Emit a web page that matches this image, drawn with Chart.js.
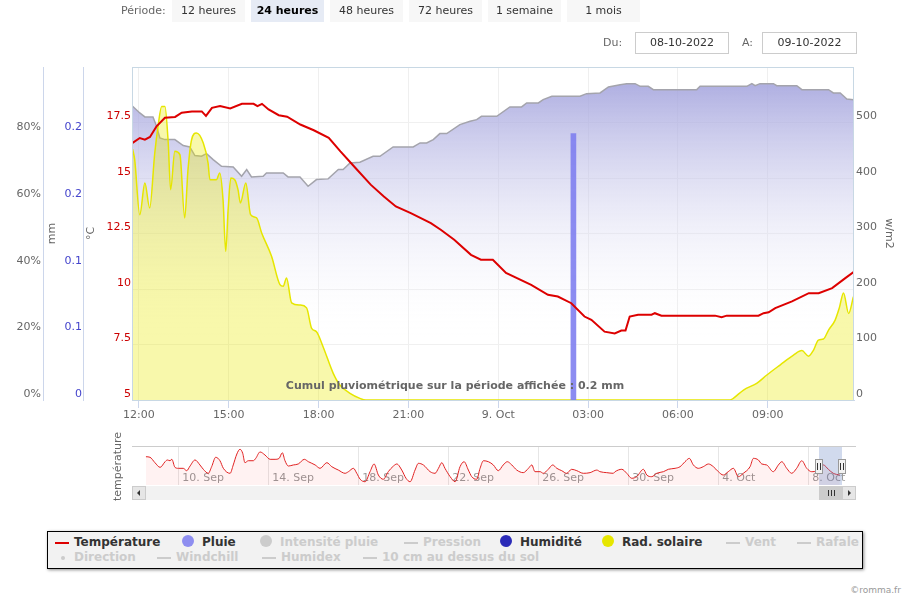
<!DOCTYPE html>
<html lang="fr">
<head>
<meta charset="utf-8">
<title>Graphique météo</title>
<script src="https://cdn.jsdelivr.net/npm/chart.js@4.4.1/dist/chart.umd.min.js"></script>
<style>
  body { margin: 0; background: #fff; font-family: "DejaVu Sans", Verdana, sans-serif; }
  #wrap { position: relative; width: 910px; height: 600px; overflow: hidden; }
  canvas { position: absolute; left: 0; }
  #mainChart { top: 0; }
  #navChart { top: 425px; }
  #periode { position: absolute; left: 121px; top: 0; line-height: 21px; font-size: 11px; color: #666; z-index: 2; }
  #buttons { position: absolute; left: 172px; top: 0; display: flex; gap: 6px; z-index: 2; }
  #buttons span { width: 73px; height: 22px; line-height: 21px; text-align: center; font-size: 11px; color: #333; background: #f7f7f7; }
  #buttons span.sel { background: #e6ebf5; font-weight: bold; color: #000; }
  .lbl { position: absolute; top: 32px; line-height: 22px; font-size: 11px; color: #666; z-index: 2; }
  .date { position: absolute; top: 32px; height: 22px; box-sizing: border-box; border: 1px solid #ccc; line-height: 20px; text-align: center; font-size: 11px; color: #333; z-index: 2; }
  #legend { position: absolute; left: 47px; top: 531px; width: 816px; height: 38px; box-sizing: border-box; border: 1px solid #000; background: #f2f2f2; box-shadow: 1px 1px 3px rgba(0,0,0,0.45); }
  #legend .item { position: absolute; white-space: nowrap; font-size: 12px; font-weight: bold; line-height: 16px; color: #333; }
  #legend .off { color: #ccc; }
  .sym-line { display: inline-block; width: 14px; height: 2px; margin-right: 5px; vertical-align: middle; }
  .sym-dot { display: inline-block; width: 12px; height: 12px; border-radius: 50%; margin-right: 8px; vertical-align: -1px; }
  .sym-small { display: inline-block; width: 4px; height: 4px; border-radius: 50%; margin: 0 9px 0 6px; vertical-align: middle; }
  #credit { position: absolute; right: 9px; top: 585px; font-size: 9px; color: #999; }
</style>
</head>
<body>
<div id="wrap">
  <div id="periode">Période:</div>
  <div id="buttons">
    <span>12 heures</span><span class="sel">24 heures</span><span>48 heures</span><span>72 heures</span><span>1 semaine</span><span>1 mois</span>
  </div>
  <div class="lbl" style="left:603px">Du:</div>
  <div class="date" style="left:635px;width:94px">08-10-2022</div>
  <div class="lbl" style="left:742px">A:</div>
  <div class="date" style="left:762px;width:95px">09-10-2022</div>

  <canvas id="mainChart" width="910" height="430" style="width:910px;height:430px"></canvas>
  <canvas id="navChart" width="910" height="77" style="width:910px;height:77px"></canvas>

  <div id="legend">
    <span class="item" style="left:7px;top:2px"><i class="sym-line" style="background:#dd0000"></i>Température</span>
    <span class="item" style="left:134px;top:2px"><i class="sym-dot" style="background:#8e8ef0"></i>Pluie</span>
    <span class="item off" style="left:212px;top:2px"><i class="sym-dot" style="background:#ccc"></i>Intensité pluie</span>
    <span class="item off" style="left:356px;top:2px"><i class="sym-line" style="background:#ccc"></i>Pression</span>
    <span class="item" style="left:452px;top:2px"><i class="sym-dot" style="background:#2b2bb8"></i>Humidité</span>
    <span class="item" style="left:554px;top:2px"><i class="sym-dot" style="background:#e6e600"></i>Rad. solaire</span>
    <span class="item off" style="left:678px;top:2px"><i class="sym-line" style="background:#ccc"></i>Vent</span>
    <span class="item off" style="left:749px;top:2px"><i class="sym-line" style="background:#ccc"></i>Rafale</span>
    <span class="item off" style="left:7px;top:17px"><i class="sym-small" style="background:#ccc"></i>Direction</span>
    <span class="item off" style="left:109px;top:17px"><i class="sym-line" style="background:#ccc"></i>Windchill</span>
    <span class="item off" style="left:214px;top:17px"><i class="sym-line" style="background:#ccc"></i>Humidex</span>
    <span class="item off" style="left:315px;top:17px"><i class="sym-line" style="background:#ccc"></i>10 cm au dessus du sol</span>
  </div>
  <div id="credit">©romma.fr</div>
</div>

<script>
// heures depuis le 08-10-2022 00:00
const hourMin = 11.77;
const hourMax = 35.88;

const tempHours = [11.79, 12.03, 12.2, 12.37, 12.59, 12.87, 13.21, 13.43, 13.77, 14.1,
    14.24, 14.44, 14.71, 15.05, 15.44, 15.83, 15.96, 16.11, 16.33, 16.67,
    16.95, 17.39, 17.84, 18.34, 18.73, 19.18, 19.74, 20.18, 20.58, 21.08,
    21.75, 22.08, 22.53, 23.09, 23.42, 23.82, 24.26, 25.1, 25.66, 25.99,
    26.44, 26.88, 27.11, 27.55, 27.89, 28.11, 28.25, 28.39, 28.67, 29.12,
    29.23, 29.45, 31.24, 31.46, 31.63, 32.69, 32.86, 33.03, 33.25, 33.81,
    34.37, 34.7, 35.15, 35.59, 35.93];
const tempValues = [16.58, 16.8, 16.73, 16.85, 17.33, 17.71, 17.75, 17.94, 18.0, 18.0,
    17.8, 18.16, 18.24, 18.13, 18.34, 18.34, 18.24, 18.34, 18.09, 17.83,
    17.76, 17.41, 17.15, 16.81, 16.2, 15.53, 14.7, 14.17, 13.72, 13.42,
    12.97, 12.67, 12.22, 11.54, 11.32, 11.32, 10.72, 10.19, 9.74, 9.66,
    9.36, 8.76, 8.61, 8.08, 8.0, 8.13, 8.13, 8.76, 8.84, 8.84,
    8.91, 8.8, 8.8, 8.73, 8.8, 8.8, 8.91, 8.95, 9.14, 9.44,
    9.81, 9.81, 10.04, 10.49, 10.83];

const humHours = [11.79, 12.03, 12.2, 12.47, 12.59, 12.7, 12.87, 13.2, 13.48, 13.7,
    13.87, 14.09, 14.26, 14.48, 14.76, 15.15, 15.43, 15.6, 15.76, 16.15,
    16.26, 16.82, 16.98, 17.38, 17.65, 17.93, 18.32, 18.66, 18.82, 19.05,
    19.38, 19.82, 20.05, 20.49, 21.16, 21.39, 21.61, 21.83, 22.05, 22.28,
    22.72, 23.06, 23.28, 23.44, 23.95, 24.39, 24.78, 24.95, 25.34, 25.5,
    25.79, 26.73, 26.95, 27.4, 27.68, 28.07, 28.29, 28.57, 28.74, 29.01,
    29.18, 30.63, 30.74, 32.3, 32.47, 32.58, 32.74, 33.19, 33.3, 33.97,
    34.14, 35.03, 35.19, 35.42, 35.64, 35.86];
const humValues = [88.2, 86.2, 85, 85, 82.2, 78.7, 78.2, 78.2, 76.4, 76,
    73.4, 73.2, 74, 72.2, 70.2, 70, 67.2, 69.2, 67, 67.2,
    68.2, 68.2, 67, 67, 64.2, 66.2, 66.4, 69.2, 69.2, 71.2,
    71.4, 73.2, 73.2, 76, 76, 77.2, 77.2, 78.2, 80, 80,
    82.7, 83.7, 84.2, 85.2, 85.2, 88, 88, 89.2, 89.2, 90.2,
    91.2, 91.2, 92, 92.2, 94, 94.7, 95, 95, 94.2, 94.2,
    93.2, 93.2, 94.2, 94.2, 95, 94.4, 95, 95, 94.4, 94.4,
    93.2, 93.2, 92.2, 92.2, 90.4, 90.2];

const solarHours = [11.79, 11.86, 12.03, 12.2, 12.36, 12.53, 12.64, 12.76, 12.87, 12.98,
    13.06, 13.2, 13.37, 13.53, 13.64, 13.76, 13.92, 14.15, 14.31, 14.37,
    14.59, 14.7, 14.81, 14.9, 14.98, 15.07, 15.2, 15.31, 15.39, 15.57,
    15.73, 15.93, 16.1, 16.43, 16.71, 16.82, 16.93, 17.1, 17.38, 17.6,
    17.77, 17.93, 18.15, 18.49, 18.71, 19.05, 19.38, 19.58, 31.74, 31.85,
    32.19, 32.63, 32.97, 33.41, 33.86, 34.14, 34.36, 34.53, 34.69, 34.86,
    35.03, 35.25, 35.39, 35.53, 35.7, 35.86];
const solarValues = [452, 433, 334, 391, 346, 445, 493, 529, 529, 463,
    379, 448, 442, 328, 415, 469, 481, 463, 427, 397,
    397, 409, 361, 268, 343, 400, 397, 379, 355, 391,
    334, 328, 301, 259, 208, 205, 220, 175, 171, 166,
    129, 123, 96, 48, 27, 12, 3, 0, 0, 3,
    18, 30, 45, 63, 81, 89, 79, 90, 108, 110,
    126, 144, 166, 193, 156, 186];

const rainHours = [26.51];
const rainValues = [0.2];

const hourTicks = [12, 15, 18, 21, 24, 27, 30, 33];
const hourTickLabels = ['12:00', '15:00', '18:00', '21:00', '9. Oct', '03:00', '06:00', '09:00'];
const tempTicks = [5, 7.5, 10, 12.5, 15, 17.5, 20];
const tempTickLabels = ['5', '7.5', '10', '12.5', '15', '17.5', ''];
const rainTicks = [0, 0.05, 0.1, 0.15, 0.2, 0.25];
const rainTickLabels = ['0', '0.1', '0.1', '0.2', '0.2', ''];
const humTicks = [0, 20, 40, 60, 80, 100];
const humTickLabels = ['0%', '20%', '40%', '60%', '80%', ''];
const solarTicks = [0, 100, 200, 300, 400, 500, 600];
const solarTickLabels = ['0', '100', '200', '300', '400', '500', ''];

// navigateur : jours depuis le 1er septembre (38 = 8 oct)
const navMin = 7.94;
const navMax = 40.03;
const navDays = [8.56, 8.74, 8.96, 9.19, 9.41, 9.51, 9.63, 9.71, 9.85, 10.0,
    10.22, 10.37, 10.52, 10.74, 10.96, 11.11, 11.33, 11.48, 11.66, 11.85,
    12.0, 12.3, 12.44, 12.6, 12.74, 12.86, 12.96, 13.11, 13.33, 13.44,
    13.63, 13.85, 14.08, 14.3, 14.48, 14.62, 14.74, 14.89, 15.11, 15.33,
    15.6, 15.78, 16.08, 16.3, 16.6, 16.82, 17.11, 17.41, 17.56, 17.78,
    17.93, 18.08, 18.3, 18.52, 18.7, 18.89, 19.11, 19.33, 19.56, 19.71,
    19.93, 20.12, 20.3, 20.52, 20.67, 20.89, 21.19, 21.41, 21.56, 21.71,
    21.85, 22.08, 22.3, 22.52, 22.7, 22.89, 23.04, 23.26, 23.41, 23.56,
    23.78, 24.0, 24.22, 24.44, 24.62, 24.82, 25.04, 25.33, 25.56, 25.71,
    25.85, 26.08, 26.22, 26.44, 26.64, 26.82, 27.04, 27.26, 27.48, 27.71,
    28.0, 28.3, 28.6, 28.74, 29.04, 29.33, 29.41, 29.71, 29.93, 30.15,
    30.37, 30.67, 30.82, 31.04, 31.26, 31.56, 31.78, 32.08, 32.3, 32.52,
    32.71, 32.89, 33.11, 33.33, 33.56, 33.78, 34.0, 34.22, 34.44, 34.67,
    34.89, 35.11, 35.41, 35.56, 35.78, 35.93, 36.15, 36.44, 36.67, 36.82,
    37.04, 37.26, 37.48, 37.71, 37.93, 38.15, 38.37, 38.67, 38.89, 39.11,
    39.4];
const navTemps = [26.1, 25.6, 20.6, 16.3, 21.5, 23.1, 22.4, 23.7, 16.3, 15.4,
    15.4, 13.2, 17.5, 23.1, 18.5, 14.5, 10.8, 16.9, 25.6, 22.4,
    15.4, 10.8, 18.5, 28.6, 33.0, 29.3, 20.6, 22.4, 22.4, 24.6,
    30.5, 27.7, 23.7, 23.7, 24.6, 29.8, 22.4, 17.5, 18.5, 19.4,
    23.7, 21.5, 18.5, 15.4, 20.6, 16.9, 13.8, 10.8, 12.3, 15.4,
    10.8, 5.3, 3.0, 12.3, 19.4, 9.2, 5.3, 12.3, 17.5, 19.4,
    13.8, 6.2, 3.0, 13.8, 20.0, 18.5, 12.3, 10.8, 15.4, 20.6,
    15.4, 7.7, 3.0, 16.9, 21.5, 13.8, 7.7, 5.3, 15.4, 22.4,
    21.5, 18.5, 13.2, 18.5, 21.5, 18.5, 13.8, 11.4, 15.4, 18.5,
    12.3, 12.3, 10.8, 14.5, 18.5, 15.4, 13.2, 10.8, 14.5, 13.2,
    10.8, 11.4, 13.8, 12.3, 11.4, 10.8, 12.3, 14.5, 10.8, 6.2,
    7.7, 14.5, 9.2, 7.7, 10.8, 12.3, 14.5, 15.4, 16.9, 21.5,
    24.6, 18.5, 15.4, 16.9, 19.4, 16.9, 12.3, 9.2, 12.3, 15.4,
    7.7, 10.8, 16.9, 24.6, 23.1, 19.4, 18.5, 12.3, 18.5, 21.5,
    15.4, 10.8, 15.4, 22.4, 15.4, 12.3, 13.2, 18.5, 14.5, 10.8,
    9.2];
const navTicks = [10, 14, 18, 22, 26, 30, 34, 38];
const navTickLabels = ['10. Sep', '14. Sep', '18. Sep', '22. Sep', '26. Sep', '30. Sep', '4. Oct', '8. Oct'];


Chart.defaults.font.family = '"DejaVu Sans", Verdana, sans-serif';
Chart.defaults.font.size = 11;

const toPoints = (xs, ys) => xs.map((x, i) => ({ x: x, y: ys[i] }));
const fixedTicks = values => scale => { scale.ticks = values.map(v => ({ value: v })); };
const rainTotal = rainValues.reduce((a, b) => a + b, 0);

function humGradient(context) {
    const area = context.chart.chartArea;
    if (!area) return 'rgba(160,160,220,0.5)';
    const g = context.chart.ctx.createLinearGradient(0, area.top, 0, area.bottom);
    g.addColorStop(0, 'rgba(155,155,218,0.9)');
    g.addColorStop(0.82, 'rgba(255,255,255,0)');
    return g;
}

const plotExtras = {
    id: 'plotExtras',
    afterDatasetsDraw(chart) {
        const { ctx, chartArea: a } = chart;
        ctx.save();
        ctx.font = 'bold 11px "DejaVu Sans"';
        ctx.fillStyle = '#666';
        ctx.textAlign = 'center';
        ctx.textBaseline = 'middle';
        ctx.fillText('Cumul pluviométrique sur la période affichée : ' + rainTotal.toFixed(1) + ' mm', chart.width / 2, a.bottom - 14);
        ctx.strokeStyle = '#c8d8e4';
        ctx.lineWidth = 1;
        ctx.strokeRect(a.left + 0.5, a.top + 0.5, a.right - a.left - 1, a.bottom - a.top);
        ctx.restore();
    }
};

new Chart(document.getElementById('mainChart'), {
    type: 'line',
    data: {
        datasets: [
            {
                label: 'Température', data: toPoints(tempHours, tempValues), yAxisID: 'yTemp',
                borderColor: '#dd0000', borderWidth: 2, pointRadius: 0, order: 0
            },
            {
                type: 'bar', label: 'Pluie', data: toPoints(rainHours, rainValues), yAxisID: 'yRain',
                backgroundColor: 'rgba(128,128,240,0.9)', barThickness: 5, order: 1
            },
            {
                label: 'Rad. solaire', data: toPoints(solarHours, solarValues), yAxisID: 'ySolar',
                borderColor: '#e6e600', borderWidth: 1.5, backgroundColor: 'rgba(235,235,0,0.33)',
                fill: 'origin', cubicInterpolationMode: 'monotone', pointRadius: 0, order: 2
            },
            {
                label: 'Humidité', data: toPoints(humHours, humValues), yAxisID: 'yHum',
                borderColor: '#a4a4ac', borderWidth: 1.5, backgroundColor: humGradient,
                fill: 'origin', pointRadius: 0, order: 3
            }
        ]
    },
    options: {
        responsive: false,
        animation: false,
        events: [],
        layout: { padding: { top: 67, left: 0, right: 0, bottom: 0 } },
        plugins: { legend: { display: false }, tooltip: { enabled: false } },
        scales: {
            x: {
                type: 'linear', min: hourMin, max: hourMax, offset: false,
                afterBuildTicks: fixedTicks(hourTicks),
                afterFit: s => { s.height = 30; },
                grid: { offset: false, color: '#efefef', tickColor: '#ccd6eb', tickLength: 8 },
                border: { color: '#ccd6eb' },
                ticks: { color: '#666', padding: 1, maxRotation: 0, autoSkip: false, callback: (v, i) => hourTickLabels[i] }
            },
            yTemp: {
                position: 'left', weight: 1, min: 5, max: 20,
                afterBuildTicks: fixedTicks(tempTicks),
                afterFit: s => { s.width = 49; },
                grid: { color: '#f0f0f0', drawTicks: false },
                border: { display: false },
                ticks: { color: '#cc0000', padding: 1, labelOffset: -6, callback: (v, i) => tempTickLabels[i] },
                title: { display: true, text: '°C', color: '#666', padding: { top: 2, bottom: 0 } }
            },
            yRain: {
                position: 'left', weight: 2, min: 0, max: 0.25,
                afterBuildTicks: fixedTicks(rainTicks),
                afterFit: s => { s.width = 40; },
                grid: { display: false, drawTicks: false },
                border: { display: true, color: '#ccd6eb' },
                ticks: { color: '#4444cc', padding: 1, labelOffset: -6, callback: (v, i) => rainTickLabels[i] },
                title: { display: true, text: 'mm', color: '#666', padding: { top: 3, bottom: 0 } }
            },
            yHum: {
                position: 'left', weight: 3, min: 0, max: 100,
                afterBuildTicks: fixedTicks(humTicks),
                afterFit: s => { s.width = 43; },
                grid: { display: false, drawTicks: false },
                border: { display: true, color: '#ccd6eb' },
                ticks: { color: '#666', padding: 2, labelOffset: -6, callback: (v, i) => humTickLabels[i] }
            },
            ySolar: {
                position: 'right', min: 0, max: 600,
                afterBuildTicks: fixedTicks(solarTicks),
                afterFit: s => { s.width = 56; },
                grid: { display: false, drawTicks: false },
                border: { display: false },
                ticks: { color: '#666', padding: 2, labelOffset: -6, callback: (v, i) => solarTickLabels[i] },
                title: { display: true, text: 'w/m2', color: '#666', padding: { top: 15, bottom: 0 } }
            }
        }
    },
    plugins: [plotExtras]
});


const selStart = 38 + hourMin / 24;
const selEnd = 38 + hourMax / 24;

const navigatorDecor = {
    id: 'navigatorDecor',
    beforeDatasetsDraw(chart) {
        const { ctx, chartArea: a, scales: { x } } = chart;
        ctx.save();
        ctx.font = '11px "DejaVu Sans"';
        ctx.fillStyle = '#999';
        ctx.textBaseline = 'middle';
        navTicks.forEach((d, i) => ctx.fillText(navTickLabels[i], x.getPixelForValue(d) + 4, a.bottom - 7));
        ctx.restore();
    },
    afterDraw(chart) {
        const { ctx, chartArea: a, scales: { x } } = chart;
        const x1 = Math.round(x.getPixelForValue(selStart));
        const x2 = Math.round(x.getPixelForValue(selEnd));
        ctx.save();

        ctx.strokeStyle = '#cccccc';
        ctx.lineWidth = 1;
        ctx.beginPath();
        ctx.moveTo(a.left, a.top + 0.5);
        ctx.lineTo(a.right + 2, a.top + 0.5);
        ctx.stroke();

        ctx.fillStyle = 'rgba(102,133,194,0.3)';
        ctx.fillRect(x1, a.top + 1, x2 - x1, a.bottom - a.top - 1);

        // barre de défilement
        const sy = a.bottom + 1, sh = 14;
        ctx.fillStyle = '#f2f2f2';
        ctx.fillRect(a.left, sy, a.right - a.left + 2, sh);
        ctx.fillStyle = '#cccccc';
        ctx.fillRect(x1, sy, Math.min(x2, a.right - 12) - x1, sh);
        ctx.strokeStyle = '#333';
        ctx.beginPath();
        const cx = Math.round((x1 + Math.min(x2, a.right - 12)) / 2);
        [-3, 0, 3].forEach(o => { ctx.moveTo(cx + o + 0.5, sy + 4); ctx.lineTo(cx + o + 0.5, sy + 10); });
        ctx.stroke();

        [a.left, a.right - 12].forEach((bx, i) => {
            ctx.fillStyle = '#e6e6e6';
            ctx.fillRect(bx, sy, 14, sh);
            ctx.strokeStyle = '#cccccc';
            ctx.strokeRect(bx + 0.5, sy + 0.5, 13, sh - 1);
            ctx.fillStyle = '#333';
            ctx.beginPath();
            const mx = bx + 7, my = sy + 7;
            if (i === 0) { ctx.moveTo(mx - 2, my); ctx.lineTo(mx + 1, my - 3); ctx.lineTo(mx + 1, my + 3); }
            else { ctx.moveTo(mx + 2, my); ctx.lineTo(mx - 1, my - 3); ctx.lineTo(mx - 1, my + 3); }
            ctx.fill();
        });

        // poignées
        [x1, x2].forEach(hx => {
            const top = a.top + 13;
            ctx.fillStyle = '#f2f2f2';
            ctx.fillRect(hx - 4, top, 8, 15);
            ctx.strokeStyle = '#999';
            ctx.strokeRect(hx - 3.5, top + 0.5, 7, 14);
            ctx.strokeStyle = '#333';
            ctx.beginPath();
            ctx.moveTo(hx - 1.5, top + 4); ctx.lineTo(hx - 1.5, top + 11);
            ctx.moveTo(hx + 1.5, top + 4); ctx.lineTo(hx + 1.5, top + 11);
            ctx.stroke();
        });

        ctx.translate(118.5, (a.top + a.bottom) / 2 + 1);
        ctx.rotate(-Math.PI / 2);
        ctx.font = '11px "DejaVu Sans"';
        ctx.fillStyle = '#666';
        ctx.textAlign = 'center';
        ctx.textBaseline = 'middle';
        ctx.fillText('température', 0, 0);
        ctx.restore();
    }
};

new Chart(document.getElementById('navChart'), {
    type: 'line',
    data: {
        datasets: [{
            label: 'température', data: toPoints(navDays, navTemps),
            borderColor: '#e02020', borderWidth: 1, backgroundColor: 'rgba(255,0,0,0.05)',
            fill: 'start', pointRadius: 0, cubicInterpolationMode: 'monotone'
        }]
    },
    options: {
        responsive: false,
        animation: false,
        events: [],
        layout: { padding: { left: 132, right: 56, top: 21, bottom: 17 } },
        plugins: { legend: { display: false }, tooltip: { enabled: false } },
        scales: {
            x: {
                type: 'linear', min: navMin, max: navMax,
                afterBuildTicks: fixedTicks(navTicks),
                grid: { color: '#e6e6e6', drawTicks: false },
                border: { display: false },
                ticks: { display: false }
            },
            y: { display: false, min: 0, max: 36 }
        }
    },
    plugins: [navigatorDecor]
});
</script>
</body>
</html>
